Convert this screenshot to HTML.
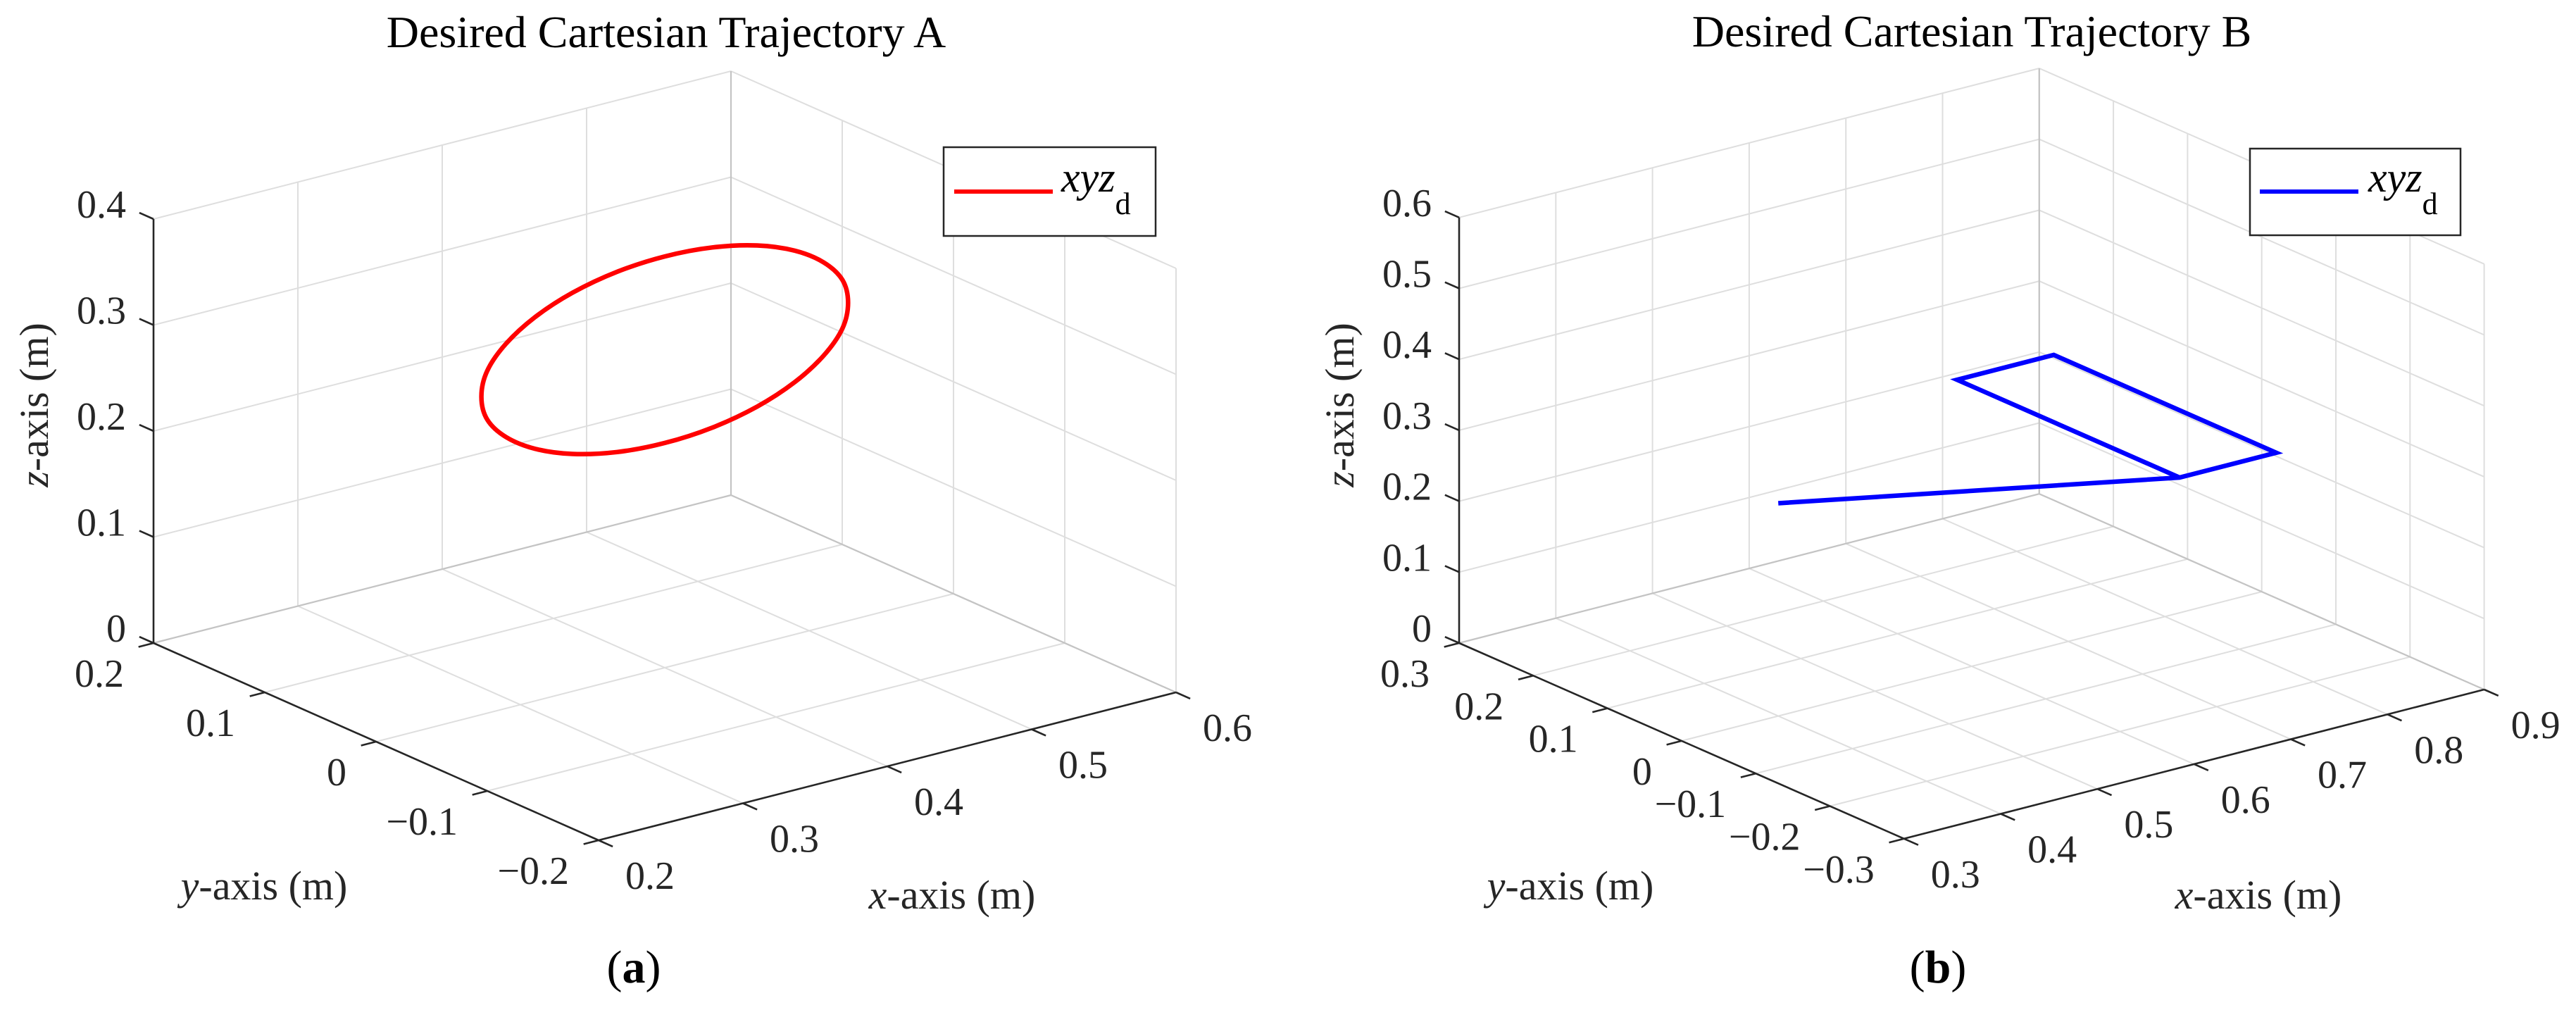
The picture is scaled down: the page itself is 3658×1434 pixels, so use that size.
<!DOCTYPE html>
<html><head><meta charset="utf-8"><style>
html,body{margin:0;padding:0;background:#fff}
svg{display:block}
text{font-family:"Liberation Serif",serif}
</style></head>
<body>
<svg id="fig" width="3658" height="1434" viewBox="0 0 3658 1434" xmlns="http://www.w3.org/2000/svg">
  <rect width="3658" height="1434" fill="#fff"/>
  <g id="chartA"></g>
  <g id="chartB"></g>

  <text x="946" y="67" font-size="64" text-anchor="middle" fill="#000">Desired Cartesian Trajectory A</text>
  <text x="2800" y="66" font-size="64" text-anchor="middle" fill="#000">Desired Cartesian Trajectory B</text>

  <text transform="translate(68,575) rotate(-90)" font-size="58" text-anchor="middle" fill="#262626"><tspan font-style="italic">z</tspan>-axis (m)</text>
  <text x="375" y="1277" font-size="58" text-anchor="middle" fill="#262626"><tspan font-style="italic">y</tspan>-axis (m)</text>
  <text x="1352" y="1290" font-size="58" text-anchor="middle" fill="#262626"><tspan font-style="italic">x</tspan>-axis (m)</text>

  <text transform="translate(1922,575) rotate(-90)" font-size="58" text-anchor="middle" fill="#262626"><tspan font-style="italic">z</tspan>-axis (m)</text>
  <text x="2230" y="1277" font-size="58" text-anchor="middle" fill="#262626"><tspan font-style="italic">y</tspan>-axis (m)</text>
  <text x="3207" y="1290" font-size="58" text-anchor="middle" fill="#262626"><tspan font-style="italic">x</tspan>-axis (m)</text>

  <g>
    <rect x="1340" y="209" width="301" height="126" fill="#fff" stroke="#262626" stroke-width="2.5"/>
    <line x1="1355" y1="272" x2="1495" y2="272" stroke="#ff0000" stroke-width="6"/>
    <text x="1507" y="272" font-size="60" fill="#000"><tspan font-style="italic">xyz</tspan><tspan font-size="44" dy="32">d</tspan></text>
  </g>
  <g>
    <rect x="3195" y="211" width="299" height="123" fill="#fff" stroke="#262626" stroke-width="2.5"/>
    <line x1="3209" y1="272" x2="3349" y2="272" stroke="#0000ff" stroke-width="6"/>
    <text x="3363" y="272" font-size="60" fill="#000"><tspan font-style="italic">xyz</tspan><tspan font-size="44" dy="32">d</tspan></text>
  </g>

  <text x="900" y="1395" font-size="66" text-anchor="middle" fill="#000">(<tspan font-weight="bold">a</tspan>)</text>
  <text x="2752" y="1395" font-size="66" text-anchor="middle" fill="#000">(<tspan font-weight="bold">b</tspan>)</text>
</svg>
<script>
// ---- Chart A data ----
const aXTicks = [0.2, 0.3, 0.4, 0.5, 0.6];
const aYTicks = [-0.2, -0.1, 0, 0.1, 0.2];
const aZTicks = [0, 0.1, 0.2, 0.3, 0.4];
const aXLabels = ['0.2', '0.3', '0.4', '0.5', '0.6'];
const aYLabels = ['\u22120.2', '\u22120.1', '0', '0.1', '0.2'];
const aZLabels = ['0', '0.1', '0.2', '0.3', '0.4'];
const aPathX = [0.527,0.523,0.510,0.490,0.464,0.433,0.400,0.367,0.336,0.310,0.290,0.277,0.273,0.277,0.290,0.310,0.336,0.367,0.400,0.433,0.464,0.490,0.510,0.523];
const aPathY = [0,0,0,0,0,0,0,0,0,0,0,0,0,0,0,0,0,0,0,0,0,0,0,0];
const aPathZ = [0.300,0.323,0.344,0.362,0.376,0.385,0.388,0.385,0.376,0.362,0.344,0.323,0.300,0.277,0.256,0.238,0.224,0.215,0.212,0.215,0.224,0.238,0.256,0.277];

// ---- Chart B data ----
const bXTicks = [0.3, 0.4, 0.5, 0.6, 0.7, 0.8, 0.9];
const bYTicks = [-0.3, -0.2, -0.1, 0, 0.1, 0.2, 0.3];
const bZTicks = [0, 0.1, 0.2, 0.3, 0.4, 0.5, 0.6];
const bXLabels = ['0.3', '0.4', '0.5', '0.6', '0.7', '0.8', '0.9'];
const bYLabels = ['\u22120.3', '\u22120.2', '\u22120.1', '0', '0.1', '0.2', '0.3'];
const bZLabels = ['0', '0.1', '0.2', '0.3', '0.4', '0.5', '0.6'];
const bPathX = [0.40, 0.70, 0.80, 0.80, 0.70, 0.70];
const bPathY = [0.00, -0.15, -0.15, 0.15, 0.15, -0.15];
const bPathZ = [0.30, 0.30, 0.30, 0.30, 0.30, 0.30];

const NS = 'http://www.w3.org/2000/svg';
function mk(tag, attrs, parent) {
  const e = document.createElementNS(NS, tag);
  for (const k in attrs) e.setAttribute(k, attrs[k]);
  parent.appendChild(e);
  return e;
}

function drawChart(g, c, xT, yT, zT, xL, yL, zL, px, py, pz, color, closed, tag) {
  const xmin = xT[0], xmax = xT[xT.length-1];
  const ymin = yT[0], ymax = yT[yT.length-1];
  const zmin = zT[0], zmax = zT[zT.length-1];
  const P = (x, y, z) => [
    c.ox + (x - xmin) / c.step * c.ex[0] + (ymax - y) / c.step * c.ey[0],
    c.oy + (x - xmin) / c.step * c.ex[1] + (ymax - y) / c.step * c.ey[1] - (z - zmin) / c.step * c.ez
  ];
  const grid = '#dedede';
  function gl(a, b, col, w, name) {
    const l = mk('line', {x1:a[0], y1:a[1], x2:b[0], y2:b[1], stroke:col, 'stroke-width':w}, g);
    
    
  }
  xT.forEach(x => gl(P(x, ymin, zmin), P(x, ymax, zmin), grid, 2, 'floor-grid-x'));
  yT.forEach(y => gl(P(xmin, y, zmin), P(xmax, y, zmin), grid, 2, 'floor-grid-y'));
  xT.forEach(x => gl(P(x, ymax, zmin), P(x, ymax, zmax), grid, 2, 'wall-grid-x'));
  zT.forEach(z => gl(P(xmin, ymax, z), P(xmax, ymax, z), grid, 2, 'wall-grid-z'));
  yT.forEach(y => gl(P(xmax, y, zmin), P(xmax, y, zmax), grid, 2, 'wall-grid-y'));
  zT.forEach(z => gl(P(xmax, ymin, z), P(xmax, ymax, z), grid, 2, 'wall-grid-z2'));
  gl(P(xmin, ymax, zmin), P(xmax, ymax, zmin), '#c4c4c4', 2.2, 'box-edge');
  gl(P(xmax, ymax, zmin), P(xmax, ymin, zmin), '#c4c4c4', 2.2, 'box-edge');
  gl(P(xmax, ymax, zmin), P(xmax, ymax, zmax), '#c4c4c4', 2.2, 'box-edge');

  const pts = px.map((x, i) => P(x, py[i], pz[i]));
  let d;
  if (closed) {
    const n = pts.length;
    d = 'M' + pts[0][0].toFixed(1) + ',' + pts[0][1].toFixed(1);
    for (let i = 0; i < n; i++) {
      const p0 = pts[(i-1+n)%n], p1 = pts[i], p2 = pts[(i+1)%n], p3 = pts[(i+2)%n];
      const c1 = [p1[0] + (p2[0]-p0[0])/6, p1[1] + (p2[1]-p0[1])/6];
      const c2 = [p2[0] - (p3[0]-p1[0])/6, p2[1] - (p3[1]-p1[1])/6];
      d += ' C' + c1.map(v=>v.toFixed(1)).join(',') + ' ' + c2.map(v=>v.toFixed(1)).join(',') + ' ' + p2.map(v=>v.toFixed(1)).join(',');
    }
    d += 'Z';
  } else {
    d = 'M' + pts.map(p => p[0].toFixed(1) + ',' + p[1].toFixed(1)).join(' L');
  }
  const path = mk('path', {d: d, fill:'none', stroke:color, 'stroke-width':6.5, 'stroke-linejoin':'miter'}, g);
  
  

  const ax = '#262626';
  gl(P(xmin, ymax, zmin), P(xmin, ymax, zmax), ax, 2.6, 'z-axis-line');
  gl(P(xmin, ymax, zmin), P(xmin, ymin, zmin), ax, 2.6, 'y-axis-line');
  gl(P(xmin, ymin, zmin), P(xmax, ymin, zmin), ax, 2.6, 'x-axis-line');

  const norm = v => { const L = Math.hypot(v[0], v[1]); return [v[0]/L, v[1]/L]; };
  const ey = norm(c.ey), ex = norm(c.ex);
  const TL = 22;
  function lbl(x, y, s, anchor, name) {
    const t = mk('text', {x:x, y:y, 'font-size':56, 'text-anchor':anchor, fill:'#262626'}, g);
    t.textContent = s;
    
    
  }
  zT.forEach((z, i) => {
    const p = P(xmin, ymax, z);
    gl(p, [p[0] - ey[0]*TL, p[1] - ey[1]*TL], ax, 2.6, 'z-tick');
    lbl(p[0] - 39, p[1] - 2, zL[i], 'end', 'z-tick-label');
  });
  yT.forEach((y, i) => {
    const p = P(xmin, y, zmin);
    gl(p, [p[0] - ex[0]*TL, p[1] - ex[1]*TL], ax, 2.6, 'y-tick');
    lbl(p[0] - 42, p[1] + 62, yL[i], 'end', 'y-tick-label');
  });
  xT.forEach((x, i) => {
    const p = P(x, ymin, zmin);
    gl(p, [p[0] + ey[0]*TL, p[1] + ey[1]*TL], ax, 2.6, 'x-tick');
    lbl(p[0] + 38, p[1] + 69, xL[i], 'start', 'x-tick-label');
  });
}

drawChart(document.getElementById('chartA'),
  {ox:218, oy:913, step:0.1, ex:[205,-52.5], ey:[158,70], ez:150.5},
  aXTicks, aYTicks, aZTicks, aXLabels, aYLabels, aZLabels,
  aPathX, aPathY, aPathZ, '#ff0000', true, 'a');
drawChart(document.getElementById('chartB'),
  {ox:2072, oy:913, step:0.1, ex:[137.3,-35.3], ey:[105.3,46.3], ez:100.7},
  bXTicks, bYTicks, bZTicks, bXLabels, bYLabels, bZLabels,
  bPathX, bPathY, bPathZ, '#0000ff', false, 'b');
</script>
</body></html>
